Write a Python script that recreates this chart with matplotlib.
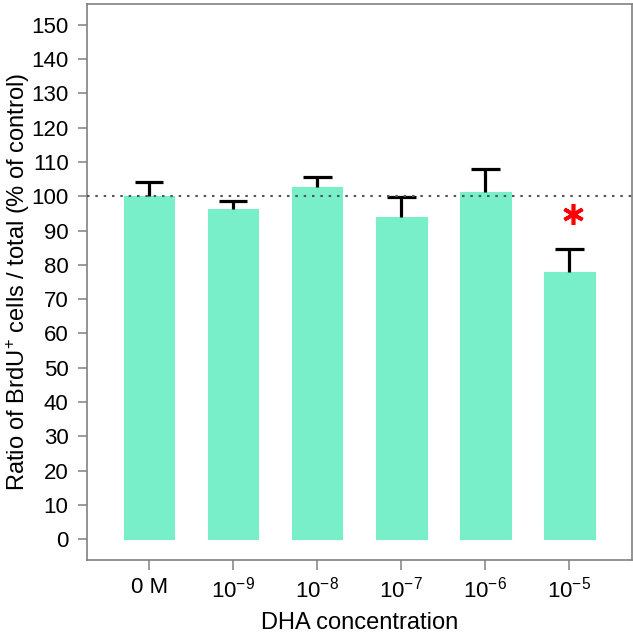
import matplotlib
matplotlib.use("Agg")
import matplotlib.pyplot as plt
import numpy as np

plt.rcParams['font.family'] = ['Liberation Sans', 'DejaVu Sans']
plt.rcParams['mathtext.fontset'] = 'custom'
plt.rcParams['mathtext.rm'] = 'Liberation Sans'
plt.rcParams['mathtext.it'] = 'Liberation Sans'
plt.rcParams['mathtext.default'] = 'regular'

# Data
categories = ['0 M', r'$10^{-9}$', r'$10^{-8}$', r'$10^{-7}$', r'$10^{-6}$', r'$10^{-5}$']
means = [100.0, 96.3, 102.6, 94.0, 101.1, 77.8]
sem = [4.2, 2.2, 3.0, 5.7, 6.9, 6.8]
control_level = 100
significant = [False, False, False, False, False, True]
star_level = 94.8
y_ticks = list(range(0, 151, 10))

W, H = 633, 635
fig = plt.figure(figsize=(W / 100, H / 100), dpi=100)
ax_left, ax_right, ax_top, ax_bottom = 87.3, 631.7, 4, 560
ax = fig.add_axes([ax_left / W, (H - ax_bottom) / H, (ax_right - ax_left) / W, (ax_bottom - ax_top) / H])

x = np.arange(len(categories))
means_arr = np.array(means)
tops = means_arr + np.array(sem)

bar_color = '#78efc8'
ax.bar(x, means, width=0.6, color=bar_color, edgecolor=bar_color, linewidth=0.8, zorder=2)

# upper error bars only
ax.vlines(x, means_arr, tops, color='black', linewidth=2.3, zorder=3)
ax.hlines(tops, x - 0.17, x + 0.17, color='black', linewidth=2.3, zorder=3)

ax.axhline(control_level, color='#555555', linestyle=(0, (1.2, 2.8)), linewidth=1.5, zorder=4)

for xi, sig in zip(x, significant):
    if sig:
        ax.plot(xi + 0.04, star_level, marker=(6, 2, 0), markersize=15,
                markeredgewidth=2.6, color='#ff0000', zorder=5)

ax.set_xlim(-0.735, 5.74)
ax.set_ylim(-6, 156)
ax.set_yticks(y_ticks)
ax.set_yticklabels([str(t) for t in y_ticks])
ax.set_xticks(x)
ax.set_xticklabels(categories)

frame_color = '#808080'
for s in ax.spines.values():
    s.set_color(frame_color)
    s.set_linewidth(1.2)

ax.tick_params(axis='both', direction='out', color=frame_color, width=1.1,
               labelsize=16, labelcolor='black')
ax.tick_params(axis='y', length=6.5, pad=7)
ax.tick_params(axis='x', length=7, pad=5)

center_y = (H - (ax_top + ax_bottom) / 2) / H
fig.text(18 / W, center_y, r'Ratio of BrdU$^{+}$ cells / total (% of control)',
         rotation=90, ha='center', va='center', fontsize=17)
fig.text(((ax_left + ax_right) / 2) / W, (H - 623) / H, 'DHA concentration',
         ha='center', va='center', fontsize=17)

fig.savefig('out.png', dpi=100)
